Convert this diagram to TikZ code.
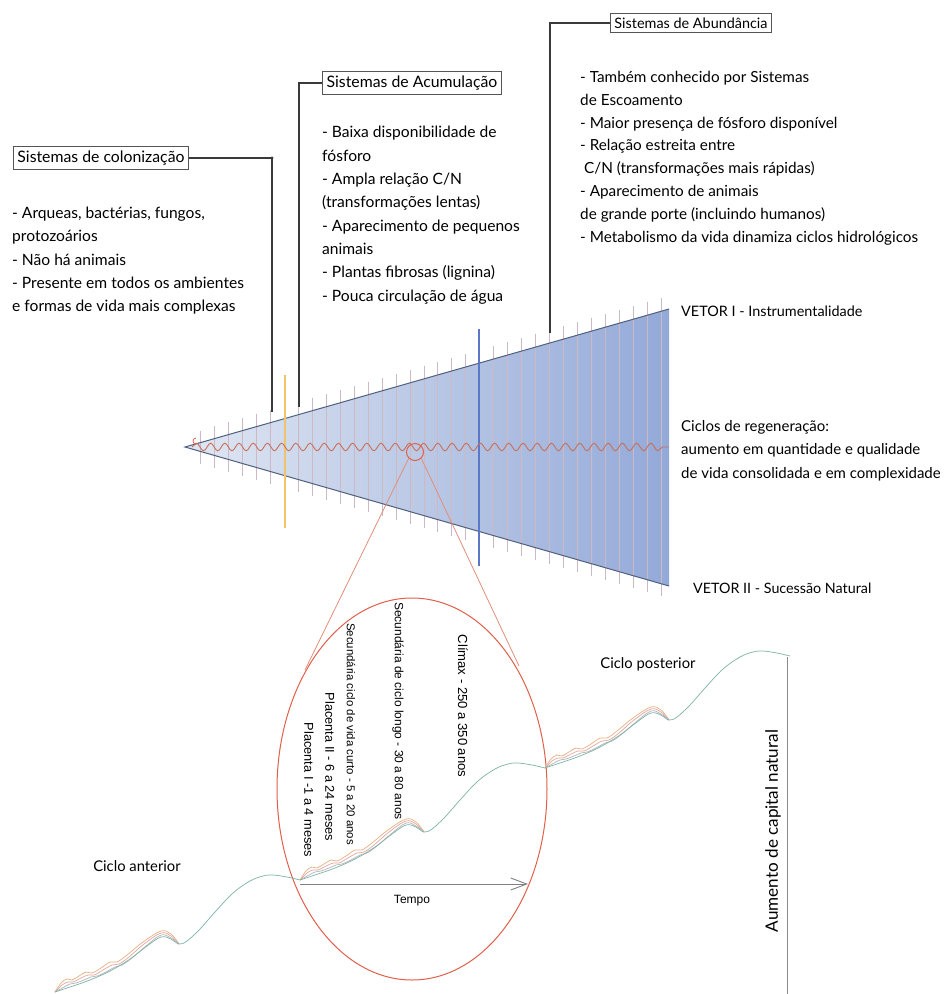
\documentclass[tikz,border=0pt]{standalone}
\usepackage{fontspec}
\setmainfont{Lato}
\newfontfamily\arialf{Liberation Sans}
\usetikzlibrary{decorations.pathmorphing,arrows.meta,shapes.geometric}
\definecolor{conncol}{HTML}{3A3A3A}
\definecolor{boxcol}{HTML}{555555}
\definecolor{fillL}{HTML}{E0E7F3}
\definecolor{fillM}{HTML}{B2C2E3}
\definecolor{fillR}{HTML}{93A9D8}
\definecolor{edgecol}{HTML}{4F5F7F}
\definecolor{tickcol}{RGB}{205,185,195}
\definecolor{wavecol}{HTML}{C8705A}
\definecolor{yellowcol}{HTML}{F2C46A}
\definecolor{bluecol}{HTML}{5B78C8}
\definecolor{redcol}{HTML}{E0604A}
\definecolor{redline}{HTML}{E0907A}
\definecolor{arrcol}{HTML}{808080}
\definecolor{axiscol}{HTML}{8A8A8A}
\definecolor{cgreen}{HTML}{7EB3A6}
\definecolor{cgray}{HTML}{B5B5B5}
\definecolor{cpink}{HTML}{E2A6A6}
\definecolor{corange}{HTML}{E8B07E}
\tikzset{
  sysbox/.style={draw=boxcol, line width=0.9pt, inner sep=4pt, font=\fontsize{15.8}{18}\selectfont},
  bodytext/.style={anchor=base west, align=left, inner sep=0pt, font=\fontsize{15.6}{23.3}\selectfont},
  conn/.style={draw=conncol, line width=1.1pt},
  tickline/.style={draw=tickcol, line width=0.8pt},
  vtext/.style={font=\arialf\fontsize{12.5}{14}\selectfont, rotate=-90, inner sep=0pt},
  strand/.style={line width=0.7pt},
}
\newcommand{\cyclecurve}[2]{%
\begin{scope}[shift={(#1,#2)}]
\draw[strand, corange] plot[smooth, tension=0.6] coordinates {(0,0) (6,-9) (12,-13) (17,-12) (24,-16) (31,-20) (37,-19) (46,-24) (55,-30) (62,-30) (72,-37) (88,-50) (106,-61) (116,-58) (124,-48)};
\draw[strand, cpink] plot[smooth, tension=0.6] coordinates {(0,0) (7,-7) (13,-10) (18,-10) (26,-14) (33,-17) (39,-17) (48,-22) (57,-27) (64,-28) (74,-35) (89,-48) (106,-59) (116,-56) (124,-48)};
\draw[strand, cgray] plot[smooth, tension=0.6] coordinates {(0,0) (9,-5) (15,-8) (21,-9) (29,-12) (36,-15) (42,-16) (51,-20) (60,-25) (67,-27) (77,-34) (91,-46) (106,-57) (116,-54) (124,-48)};
\draw[strand, cgreen] plot[smooth, tension=0.6] coordinates {(0,0) (15,-5) (35,-12) (55,-21) (75,-33) (92,-46) (106,-55) (116,-53) (124,-48) (132,-51) (145,-63) (160,-80) (178,-99) (195,-111) (208,-116) (218,-117) (232,-115) (245,-112)};
\end{scope}}
\begin{document}
\begin{tikzpicture}[x=1pt,y=-1pt]
\useasboundingbox (0,0) rectangle (944,994);
\fill[white] (0,0) rectangle (944,994);

% triangle
\coordinate (A) at (185,447);
\coordinate (TR) at (669,309);
\coordinate (BR) at (669,586);
\shade[left color=fillL, middle color=fillM, right color=fillR] (A) -- (TR) -- (BR) -- cycle;
\foreach \k in {0,...,33} {
  \pgfmathsetmacro\xx{200.7+13.95*\k}
  \pgfmathsetmacro\hh{0.287*(\xx-185)+12}
  \draw[tickline] ({\xx},{447-\hh}) -- ({\xx},{447+\hh});
}
\draw[edgecol, line width=1pt] (TR) -- (A) -- (BR);
\draw[yellowcol, line width=1.3pt] (285,375) -- (285,528);
\draw[bluecol, line width=1.2pt] (479,329) -- (479,566);
\draw[wavecol, line width=0.9pt, decorate, decoration={snake, segment length=14.2pt, amplitude=3.8pt}] (192,447) -- (669,447);
\draw[redcol, line width=0.8pt] (196,444) arc (90:270:3);

% zoom circle and ellipse
\node[draw=redcol, line width=1pt, circle, minimum size=17pt, inner sep=0pt] (zc) at (415,452) {};
\node[draw=redcol, line width=1pt, ellipse, minimum width=270pt, minimum height=382pt, inner sep=0pt] (ze) at (412,789) {};
\coordinate (zl) at (305,670);
\coordinate (zr) at (519,666);
\draw[redline, line width=0.8pt] (zc.south west) -- (zl);
\draw[redline, line width=0.8pt] (zc.south east) -- (zr);

% boxes
\node[sysbox] (b1) at (101,158) {Sistemas de colonização};
\node[sysbox] (b2) at (412,83) {Sistemas de Acumulação};
\node[sysbox, font=\fontsize{14.4}{16}\selectfont] (b3) at (691,23) {Sistemas de Abundância};
\coordinate (c1) at (272,412);
\coordinate (c2) at (299,407);
\coordinate (c3) at (550,333);
\draw[conn] (b1.east) -| (c1);
\fill[conncol] (272,158) circle (1.6);
\draw[conn] (b2.west) -| (c2);
\draw[conn] (b3.west) -| (c3);

% body texts (base = baseline of the last line)
\node[bodytext] (t1) at (12,311.7) {- Arqueas, bactérias, fungos,\\protozoários\\- Não há animais\\- Presente em todos os ambientes\\e formas de vida mais complexas};
\node[bodytext] (t2) at (322,301) {- Baixa disponibilidade de\\fósforo\\- Ampla relação C/N\\(transformações lentas)\\- Aparecimento de pequenos\\animais\\- Plantas fibrosas (lignina)\\- Pouca circulação de água};
\node[bodytext, font=\fontsize{15.3}{22.8}\selectfont] (t3) at (580,242) {- Também conhecido por Sistemas\\de Escoamento\\- Maior presença de fósforo disponível\\- Relação estreita entre\\\ C/N (transformações mais rápidas)\\- Aparecimento de animais\\de grande porte (incluindo humanos)\\- Metabolismo da vida dinamiza ciclos hidrológicos};

% right labels
\node[bodytext, font=\fontsize{14.4}{23.3}\selectfont] (v1) at (681,316) {VETOR I - Instrumentalidade};
\node[bodytext, font=\fontsize{15}{23.3}\selectfont] (cr) at (681,478) {Ciclos de regeneração:\\aumento em quantidade e qualidade\\de vida consolidada e em complexidade};
\node[bodytext, font=\fontsize{14.3}{23.3}\selectfont] (v2) at (693,593) {VETOR II - Sucessão Natural};

% curves
\cyclecurve{55}{992}
\cyclecurve{300}{880}
\cyclecurve{545}{768}

% ellipse texts
\node[vtext, font=\arialf\fontsize{13.1}{14}\selectfont] (cl) at (463,706) {Clímax - 250 a 350 anos};
\node[vtext, font=\arialf\fontsize{12}{14}\selectfont] (sl) at (398,711) {Secundária de ciclo longo - 30 a 80 anos};
\node[vtext, font=\arialf\fontsize{11.4}{14}\selectfont] (sc) at (351,734) {Secundária ciclo de vida curto - 5 a 20 anos};
\node[vtext, font=\arialf\fontsize{12.8}{14}\selectfont] (p2) at (330,767) {Placenta II - 6 a 24 meses};
\node[vtext, font=\arialf\fontsize{12.8}{14}\selectfont] (p1) at (309,790) {Placenta I -1 a 4 meses};

% time arrow
\coordinate (ts) at (300,884);
\coordinate (te) at (528,884);
\draw[arrcol, line width=0.9pt, -{Straight Barb[length=16pt,width=12pt]}] (ts) -- (te);
\node[font=\arialf\fontsize{12}{14}\selectfont] (tempo) at (412,901) {Tempo};

% cycle labels
\node[font=\fontsize{14.8}{16}\selectfont] (ca) at (137,866) {Ciclo anterior};
\node[font=\fontsize{14.8}{16}\selectfont] (cp) at (648,664) {Ciclo posterior};

% axis
\coordinate (ax1) at (787,657);
\coordinate (ax2) at (787,994);
\draw[axiscol, line width=1pt] (ax1) -- (ax2);
\node[rotate=90, font=\fontsize{17.1}{19}\selectfont] (an) at (773,831) {Aumento de capital natural};
\end{tikzpicture}
\end{document}
